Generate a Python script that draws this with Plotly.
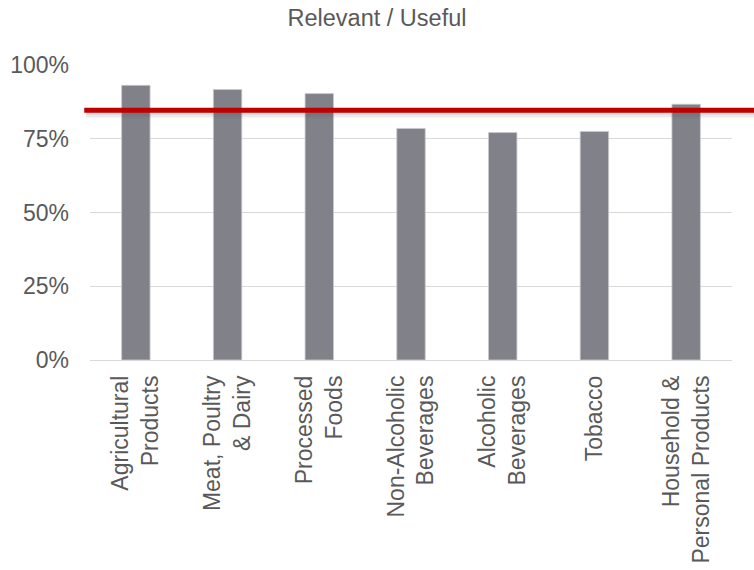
import plotly.graph_objects as go

# Share of respondents rating each category as relevant / useful
categories = [
    "Agricultural<br>Products",
    "Meat, Poultry<br>& Dairy",
    "Processed<br>Foods",
    "Non-Alcoholic<br>Beverages",
    "Alcoholic<br>Beverages",
    "Tobacco",
    "Household &<br>Personal Products",
]
values = [0.931, 0.917, 0.903, 0.785, 0.771, 0.775, 0.867]
benchmark = 0.847
y_ticks = [0, 0.25, 0.5, 0.75, 1.0]
y_tick_labels = ["0%", "25%", "50%", "75%", "100%"]
y_max = 1.0

FONT = "Liberation Sans, Arial, sans-serif"
TEXT = "#595959"

fig = go.Figure(
    go.Bar(
        x=categories,
        y=values,
        marker=dict(color="#818189", line=dict(color="#c9c9cf", width=0.8)),
        hoverinfo="skip",
    )
)

# Benchmark line across the whole chart, with a soft drop shadow beneath it
by = benchmark / y_max
shadow = [(0.006, 0.16), (0.012, 0.11), (0.018, 0.07), (0.024, 0.04)]
shapes = []
for off, a in shadow:
    shapes.append(dict(
        type="line", xref="paper", yref="paper",
        x0=-0.006, x1=1.05, y0=by - off, y1=by - off,
        line=dict(color=f"rgba(60,60,60,{a})", width=3),
        layer="above",
    ))
shapes.append(dict(
    type="line", xref="paper", yref="paper",
    x0=-0.009, x1=1.05, y0=by, y1=by,
    line=dict(color="#C00000", width=5),
    layer="above",
))

fig.update_layout(
    width=754,
    height=570,
    margin=dict(l=90, r=22, t=65, b=210),
    paper_bgcolor="white",
    plot_bgcolor="white",
    bargap=0.69,
    showlegend=False,
    font=dict(family=FONT, color=TEXT, size=23),
    title=dict(
        text="Relevant / Useful",
        x=0.5, xanchor="center",
        y=1 - 18 / 570, yanchor="middle",
        font=dict(family=FONT, size=23.5, color=TEXT),
    ),
    shapes=shapes,
)

fig.update_xaxes(
    tickangle=-90,
    tickfont=dict(family=FONT, size=23, color=TEXT),
    showline=False,
    ticks="",
    ticklabelstandoff=10,
    automargin=False,
)
fig.update_yaxes(
    range=[0, y_max],
    tickvals=y_ticks,
    ticktext=y_tick_labels,
    tickfont=dict(family=FONT, size=23, color=TEXT),
    showgrid=True,
    gridcolor="#D9D9D9",
    gridwidth=1,
    zeroline=True,
    zerolinecolor="#D9D9D9",
    zerolinewidth=1,
    showline=False,
    ticks="",
    ticklabelstandoff=20,
    automargin=False,
)

fig.write_html("out.html")
